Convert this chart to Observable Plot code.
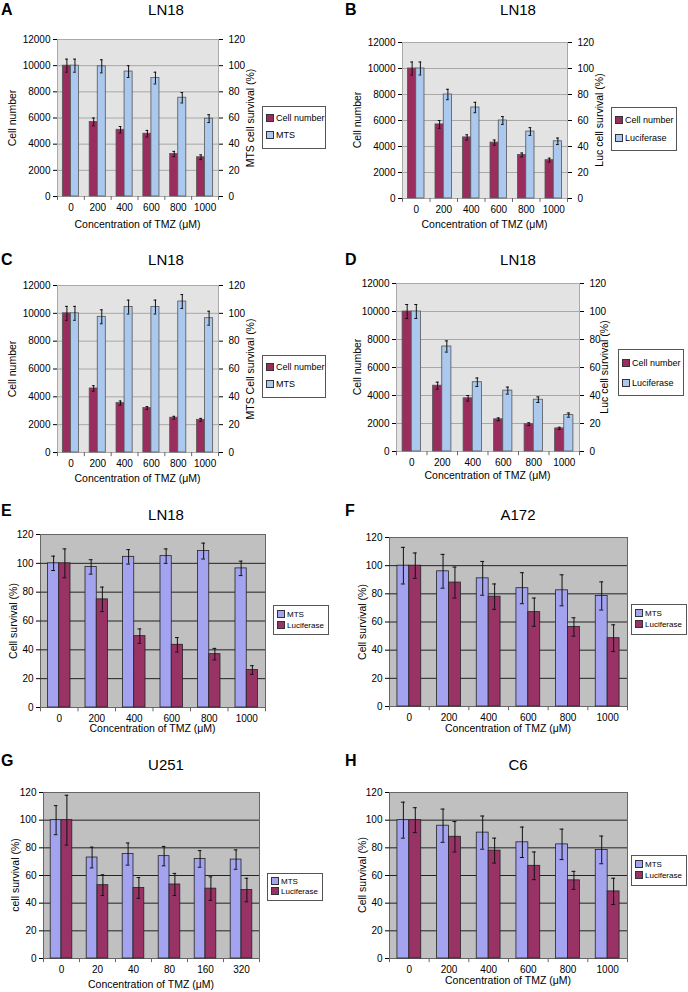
<!DOCTYPE html>
<html><head><meta charset="utf-8">
<script src="https://cdn.jsdelivr.net/npm/d3@7"></script>
<script src="https://cdn.jsdelivr.net/npm/@observablehq/plot@0.6"></script>
<style>
body{margin:0;background:#fff;font-family:"Liberation Sans",Arial,sans-serif;}
#root{position:relative;width:688px;height:992px;overflow:hidden;}
.abs{position:absolute;white-space:nowrap;color:#000;}
.letter{font-weight:bold;font-size:16px;line-height:18px;}
.title{font-size:15px;line-height:18px;transform:translateX(-50%);}
.xl{font-size:10.5px;transform:translateX(-50%);}
.yl{font-size:10.5px;transform:translate(-50%,-50%) rotate(-90deg);}
.leg{border:1px solid #555;background:#fff;padding:3px 3px;box-sizing:border-box;overflow:hidden;}
.sw{display:inline-block;width:6px;height:6px;border:1px solid #333;margin-right:2px;vertical-align:-1px;}
svg{position:absolute;overflow:visible;}
</style></head><body><div id="root"></div>
<script>
const dosesA = ["0","200","400","600","800","1000"];
const dosesG = ["0","20","40","80","160","320"];

const A_cell = [10000,5700,5100,4800,3250,3000], A_cellErr=[500,300,250,250,200,180];
const A_mts = [100,99.5,95.5,90.5,75.5,59.5], A_mtsErr=[5,5,4.5,4.5,4,3];
const B_cell = [10000,5700,4700,4300,3350,2950], B_cellErr=[500,300,200,200,150,150];
const B_luc = [100,80,70,60,51.5,44], B_lucErr=[5,4,4,3,3,2.5];
const C_cell = [10000,4600,3550,3200,2500,2350], C_cellErr=[500,200,150,100,100,100];
const C_mts = [100,97.5,104.5,104.5,108.5,96.5], C_mtsErr=[5,5,5,5,5,5];
const D_cell = [10000,4700,3800,2300,1950,1650], D_cellErr=[500,250,200,100,100,80];
const D_luc = [100,75,49.5,43.5,37,26], D_lucErr=[5,4,3,2.5,2,1.5];
const E_mts = [100,97.5,104.5,105,108.5,96.5], E_mtsErr=[5,5,5,5,5.5,5];
const E_luc = [100,75,49.5,43.5,37,26], E_lucErr=[10,8.5,5,5,4,3];
const F_mts = [100,96,91,84,82.5,78.5], F_mtsErr=[13,12,12,11,11,10];
const F_luc = [100,88,78,67,56.5,48.5], F_lucErr=[9,11,9,10,6.5,9.5];
const G_mts = [100,73,75.5,74,72,71.5], G_mtsErr=[10.5,7.5,8,7,6,7];
const G_luc = [100,53,51,53.5,50.5,49.5], G_lucErr=[18,7.5,7.5,8,8.5,8.5];
const H_mts = F_mts, H_mtsErr = F_mtsErr, H_luc = F_luc, H_lucErr = F_lucErr;

const RED="#9b2d5e", BLUE="#abc8ee", LAV="#a3a3f0", CLARET="#993366";
const root=document.getElementById("root");
function div(cls, html, css){const d=document.createElement("div");d.className="abs "+cls;d.innerHTML=html;Object.assign(d.style,css);root.appendChild(d);return d;}

function panel(p){
  const ML=50, MR=p.dual?45:6, MT=8, MB=30;
  const fw=p.fx2-p.fx1, fh=p.fy2-p.fy1;
  const rows=[];
  p.series.forEach((s,si)=>s.v.forEach((v,i)=>{
    const k=s.scale||1;
    rows.push({i, si, x1:i-0.3+si*0.3, x2:i+si*0.3, c:i-0.15+si*0.3, y:v*k, lo:(v-s.e[i])*k, hi:(v+s.e[i])*k, fill:s.color});
  }));
  const ymax=p.ymax, step=p.step;
  const ticks=d3.range(0,ymax+step/2,step);
  const marks=[
    Plot.frame({fill:p.bg, stroke:p.frameStroke}),
    Plot.ruleY(ticks.slice(1,-1),{stroke:p.grid,strokeWidth:1}),
    Plot.rectY(rows,{x1:"x1",x2:"x2",y1:0,y2:"y",fill:"fill",stroke:p.barStroke,strokeWidth:0.8}),
    Plot.ruleX(rows,{x:"c",y1:"lo",y2:"hi",stroke:"#111",strokeWidth:1}),
    Plot.ruleY(rows,{y:"lo",x1:d=>d.c-0.05,x2:d=>d.c+0.05,stroke:"#111"}),
    Plot.ruleY(rows,{y:"hi",x1:d=>d.c-0.05,x2:d=>d.c+0.05,stroke:"#111"}),
    Plot.ruleX(d3.range(-0.5,6,1),{y1:0,y2:-ymax*0.025,stroke:"#666",clip:false}),
    Plot.axisX(d3.range(6),{tickFormat:i=>p.cats[i],tickSize:0,tickPadding:7,fontSize:10,label:null}),
    Plot.axisY(ticks,{tickSize:4,tickPadding:3,fontSize:10,tickFormat:d3.format("d"),label:null}),
  ];
  if(p.dual) marks.push(Plot.axisY(ticks,{anchor:"right",tickFormat:d=>d/100,tickSize:4,tickPadding:6,fontSize:10,label:null}));
  const svg=Plot.plot({width:ML+fw+MR,height:MT+fh+MB,marginLeft:ML,marginRight:MR,marginTop:MT,marginBottom:MB,
    x:{type:"linear",domain:[-0.5,5.5]},y:{domain:[0,ymax]},style:{fontFamily:"Liberation Sans, Arial, sans-serif",background:"transparent",overflow:"visible"},marks});
  svg.style.left=(p.fx1-ML)+"px"; svg.style.top=(p.fy1-MT)+"px";
  root.appendChild(svg);
  div("letter",p.letter,{left:p.ox+"px",top:p.oy+"px"});
  div("title",p.title,{left:p.tx+"px",top:p.ty+"px"});
  div("xl","Concentration of TMZ (&mu;M)",{left:((p.fx1+p.fx2)/2)+"px",top:(p.fy2+p.xlo)+"px"});
  div("yl",p.ylab,{left:p.ylx+"px",top:((p.fy1+p.fy2)/2)+"px"});
  if(p.dual) div("yl",p.ylab2,{left:p.ylx2+"px",top:((p.fy1+p.fy2)/2)+"px"});
  const L=p.leg;
  const items=p.series.map(s=>`<div style="line-height:${L.lh}px"><span class="sw" style="background:${s.color}"></span>${s.name}</div>`).join("");
  div("leg",items,{left:L.x+"px",top:L.y+"px",width:L.w+"px",height:L.h+"px",fontSize:(L.fs||9)+"px"});
}

const top4={bg:"#e3e3e3",grid:"#a8a8a8",frameStroke:"#aaa",barStroke:"#555",dual:true,ymax:12000,step:2000,cats:dosesA};
const bot4={bg:"#c0c0c0",grid:"#222",frameStroke:"#666",barStroke:"#222",dual:false,ymax:120,step:20};

panel({...top4,letter:"A",ox:1,oy:1,title:"LN18",tx:166,ty:1,fx1:57,fx2:218,fy1:39,fy2:196,xlo:22,ylab:"Cell number",ylx:12,ylab2:"MTS cell survival (%)",ylx2:250,
  series:[{name:"Cell number",v:A_cell,e:A_cellErr,color:RED},{name:"MTS",v:A_mts,e:A_mtsErr,color:BLUE,scale:100}],
  leg:{x:262,y:106,w:64,h:43,lh:17,fs:9}});
panel({...top4,letter:"B",ox:345,oy:1,title:"LN18",tx:518,ty:1,fx1:402,fx2:567,fy1:42,fy2:198,xlo:20,ylab:"Cell number",ylx:357,ylab2:"Luc cell survival (%)",ylx2:599,
  series:[{name:"Cell number",v:B_cell,e:B_cellErr,color:RED},{name:"Luciferase",v:B_luc,e:B_lucErr,color:BLUE,scale:100}],
  leg:{x:611,y:107,w:66,h:44,lh:18,fs:9}});
panel({...top4,letter:"C",ox:1,oy:251,title:"LN18",tx:166,ty:251,fx1:57,fx2:218,fy1:285,fy2:452,xlo:20,ylab:"Cell number",ylx:12,ylab2:"MTS Cell survival (%)",ylx2:250,
  series:[{name:"Cell number",v:C_cell,e:C_cellErr,color:RED},{name:"MTS",v:C_mts,e:C_mtsErr,color:BLUE,scale:100}],
  leg:{x:262,y:355,w:64,h:43,lh:17,fs:9}});
panel({...top4,letter:"D",ox:345,oy:251,title:"LN18",tx:518,ty:251,fx1:396,fx2:579,fy1:283,fy2:451,xlo:18,ylab:"Cell number",ylx:357,ylab2:"Luc cell survival (%)",ylx2:604,
  series:[{name:"Cell number",v:D_cell,e:D_cellErr,color:RED},{name:"Luciferase",v:D_luc,e:D_lucErr,color:BLUE,scale:100}],
  leg:{x:618,y:349,w:66,h:47,lh:20,fs:9}});
panel({...bot4,cats:dosesA,letter:"E",ox:1,oy:502,title:"LN18",tx:166,ty:506,fx1:40,fx2:265,fy1:534,fy2:707,xlo:15,ylab:"Cell survival (%)",ylx:13,
  series:[{name:"MTS",v:E_mts,e:E_mtsErr,color:LAV},{name:"Luciferase",v:E_luc,e:E_lucErr,color:CLARET}],
  leg:{x:273,y:605,w:56,h:30,lh:11,fs:8}});
panel({...bot4,cats:dosesA,letter:"F",ox:345,oy:502,title:"A172",tx:518,ty:506,fx1:389,fx2:627,fy1:537,fy2:706,xlo:16,ylab:"Cell survival (%)",ylx:362,
  series:[{name:"MTS",v:F_mts,e:F_mtsErr,color:LAV},{name:"Luciferase",v:F_luc,e:F_lucErr,color:CLARET}],
  leg:{x:631,y:604,w:56,h:31,lh:11,fs:8}});
panel({...bot4,cats:dosesG,letter:"G",ox:1,oy:752,title:"U251",tx:166,ty:756,fx1:43,fx2:259,fy1:792,fy2:958,xlo:20,ylab:"cell survival (%)",ylx:15,
  series:[{name:"MTS",v:G_mts,e:G_mtsErr,color:LAV},{name:"Luciferase",v:G_luc,e:G_lucErr,color:CLARET}],
  leg:{x:267,y:873,w:56,h:28,lh:10,fs:8}});
panel({...bot4,cats:dosesA,letter:"H",ox:345,oy:752,title:"C6",tx:518,ty:756,fx1:389,fx2:627,fy1:792,fy2:958,xlo:16,ylab:"Cell survival (%)",ylx:362,
  series:[{name:"MTS",v:H_mts,e:H_mtsErr,color:LAV},{name:"Luciferase",v:H_luc,e:H_lucErr,color:CLARET}],
  leg:{x:631,y:855,w:56,h:31,lh:11,fs:8}});
</script></body></html>
